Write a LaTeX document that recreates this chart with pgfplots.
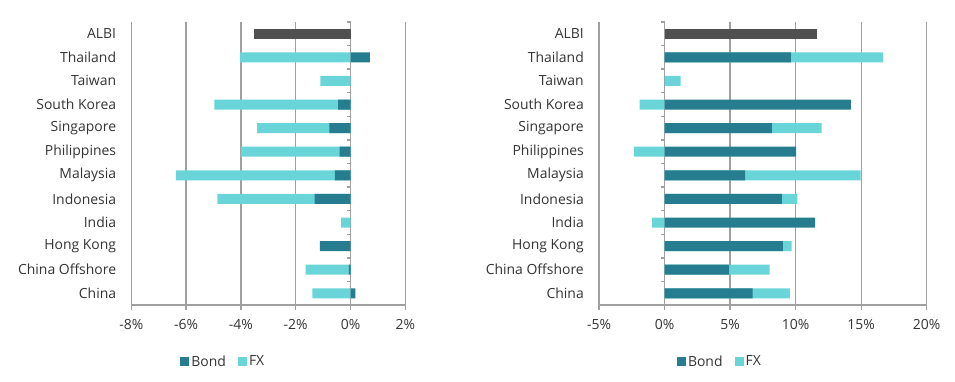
\documentclass[border=0pt]{standalone}
\usepackage{pgfplots}
\pgfplotsset{compat=1.18}
\usepackage{pgfplotstable}
\usepackage{fontspec}
\setmainfont{Open Sans}
\definecolor{bondc}{HTML}{267D8F}
\definecolor{fxc}{HTML}{69D5D8}
\definecolor{albic}{HTML}{505050}
\definecolor{gridc}{HTML}{A0A0A0}
\definecolor{txtc}{HTML}{333333}

% y: 0=China ... 10=Thailand ; bond = bond segment end, fxend = outer end of FX segment
\pgfplotstableread{
y bond fxend
0  0.18 -1.39
1 -0.06 -1.64
2 -1.12  0
3  0    -0.34
4 -1.31 -4.86
5 -0.57 -6.37
6 -0.40 -4.00
7 -0.77 -3.41
8 -0.45 -4.97
9  0    -1.10
10 0.71 -4.04
}\lefttab

\pgfplotstableread{
y bond fxend
0  6.71  9.56
1  4.93  8.01
2  9.03  9.69
3 11.49 -0.94
4  8.95 10.14
5  6.15 14.95
6 10.04 -2.34
7  8.19 11.98
8 14.21 -1.91
9  0     1.22
10 9.64 16.68
}\righttab

\pgfplotsset{
  panel/.style={
    scale only axis, height=283.2bp,
    ymin=-0.5, ymax=11.5,
    ytick={0,...,11},
    yticklabels={China, China Offshore, Hong Kong, India, Indonesia, Malaysia, Philippines, Singapore, South Korea, Taiwan, Thailand, ALBI},
    axis x line*=bottom, axis y line*=left,
    y axis line style={draw=none},
    x axis line style={draw=gridc, line width=1.3bp, -},
    ytick style={draw=none},
    xtick style={draw=gridc, line width=1.3bp},
    major tick length=5bp,
    tick align=outside,
    xmajorgrids, major grid style={draw=gridc, line width=1.3bp},
    tick label style={text=txtc, font=\fontsize{14}{16}\selectfont},
    yticklabel style={anchor=east, inner sep=0pt, xshift=-10bp},
    xticklabel style={inner sep=0pt, yshift=-9bp},
    /pgf/number format/assume math mode=true,
    xticklabel={\pgfmathprintnumber{\tick}\%},
    legend style={draw=none, fill=none, anchor=center, legend columns=2,
      /tikz/every even column/.append style={column sep=10bp},
      /tikz/every odd column/.append style={column sep=0bp},
      nodes={inner xsep=2bp},
      font=\fontsize{14}{16}\selectfont, text=txtc, inner sep=0pt},
    legend image code/.code={\fill[##1, draw=none] (0bp,-4.5bp) rectangle (9bp,4.5bp);},
  },
  hbar/.style={xbar, bar width=10bp, bar shift=0pt, draw=none, forget plot},
}

\begin{document}
\begin{tikzpicture}
\path[use as bounding box] (0,0) rectangle (955bp,-382bp);

\begin{axis}[panel, at={(131.3bp,-21.9bp)}, anchor=north west, width=274bp,
  xmin=-8, xmax=2, xtick={-8,-6,...,2},
  legend style={at={(0.336,-0.2)}}]
\addlegendimage{fill=bondc, draw=none}
\addlegendimage{fill=fxc, draw=none}
\addplot[hbar, fill=fxc] table[x=fxend, y=y] {\lefttab};
\addplot[hbar, fill=bondc] table[x=bond, y=y] {\lefttab};
\addplot[hbar, fill=albic] coordinates {(-3.51,11)};
\pgfplotsinvokeforeach{-0.5,0.5,...,11.5}{\draw[gridc, line width=1.3bp] (axis cs:0,#1) -- ++(-4bp,0pt);}
\legend{Bond,FX}
\end{axis}

\begin{axis}[panel, at={(599bp,-21.9bp)}, anchor=north west, width=327.7bp,
  xmin=-5, xmax=20, xtick={-5,0,...,20},
  legend style={at={(0.369,-0.2)}}]
\addlegendimage{fill=bondc, draw=none}
\addlegendimage{fill=fxc, draw=none}
\addplot[hbar, fill=fxc] table[x=fxend, y=y] {\righttab};
\addplot[hbar, fill=bondc] table[x=bond, y=y] {\righttab};
\addplot[hbar, fill=albic] coordinates {(11.62,11)};
\pgfplotsinvokeforeach{-0.5,0.5,...,11.5}{\draw[gridc, line width=1.3bp] (axis cs:0,#1) -- ++(-4bp,0pt);}
\legend{Bond,FX}
\end{axis}
\end{tikzpicture}
\end{document}
